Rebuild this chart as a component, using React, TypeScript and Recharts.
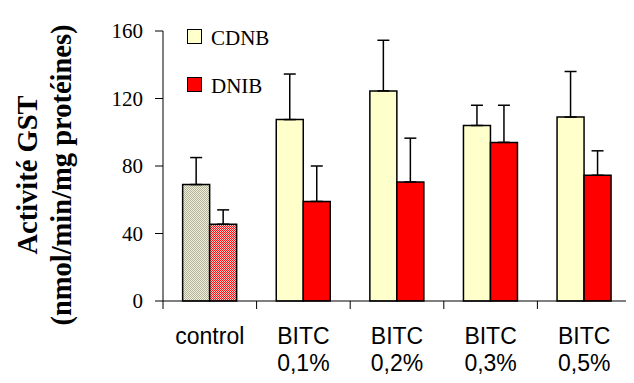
import { BarChart, Bar, XAxis, YAxis, ErrorBar, Cell, Label } from 'recharts'

// GST activity per treatment group, two substrates
const GROUPS = ['control', 'BITC\n0,1%', 'BITC\n0,2%', 'BITC\n0,3%', 'BITC\n0,5%']
const CDNB = [69, 107.5, 124.5, 104, 109]
const CDNB_ERR = [16, 27, 30, 12, 27]
const DNIB = [45.5, 59, 70.5, 94, 74.5]
const DNIB_ERR = [8.5, 21, 26, 22, 14.5]
const Y_TICKS = [0, 40, 80, 120, 160]

const SERIES = [
  { key: 'cdnb', name: 'CDNB', fill: '#ffffcc', controlFill: 'url(#ctlCdnb)' },
  { key: 'dnib', name: 'DNIB', fill: '#ff0000', controlFill: 'url(#ctlDnib)' },
]

const data = GROUPS.map((g, i) => ({
  name: g,
  cdnb: CDNB[i],
  cdnbErr: [0, CDNB_ERR[i]],
  dnib: DNIB[i],
  dnibErr: [0, DNIB_ERR[i]],
}))

const W = 626
const H = 375
const MARGIN = { top: 23, right: 3, bottom: 0, left: 95 }
const Y_WIDTH = 60
const TICK_LEN = 8

const serif = '"Liberation Serif", "Times New Roman", serif'
const sans = '"Liberation Sans", Arial, sans-serif'

// category labels plus tick marks on the group boundaries
function GroupTick(props: any) {
  const { x, y, payload, index, visibleTicksCount } = props
  const fallback = (W - MARGIN.left - Y_WIDTH - MARGIN.right) / GROUPS.length / 2
  const half = payload.offset || fallback
  const lines = String(payload.value).split('\n')
  return (
    <g>
      <line x1={x - half} y1={y - TICK_LEN} x2={x - half} y2={y} stroke="#000" />
      {index === visibleTicksCount - 1 && (
        <line x1={x + half} y1={y - TICK_LEN} x2={x + half} y2={y} stroke="#000" />
      )}
      <text x={x} y={y + 35} textAnchor="middle" fontFamily={sans} fontSize={23} fill="#000">
        {lines.map((l, k) => (
          <tspan key={k} x={x} dy={k === 0 ? 0 : 27}>{l}</tspan>
        ))}
      </text>
    </g>
  )
}

function AxisTitle(props: any) {
  const vb = props.viewBox
  const cy = vb.y + vb.height / 2 + 9
  const x1 = vb.x - 66
  const x2 = vb.x - 32
  return (
    <g fontFamily={serif} fontSize={28.5} fontWeight="bold" fill="#000">
      <text x={x1} y={cy} textAnchor="middle" transform={`rotate(-90 ${x1} ${cy})`}>Activité GST</text>
      <text x={x2} y={cy} textAnchor="middle" transform={`rotate(-90 ${x2} ${cy})`}>(nmol/min/mg protéines)</text>
    </g>
  )
}

export default function App() {
  return (
    <div style={{ position: 'relative', width: W, height: H }}>
      <BarChart width={W} height={H} data={data} margin={MARGIN} barCategoryGap="21%" barGap={0}>
        <defs>
          <pattern id="ctlCdnb" width={2} height={2} patternUnits="userSpaceOnUse">
            <rect width={2} height={2} fill="#f0f0da" />
            <rect width={1} height={1} fill="#b4b49c" />
            <rect x={1} y={1} width={1} height={1} fill="#b4b49c" />
          </pattern>
          <pattern id="ctlDnib" width={2} height={2} patternUnits="userSpaceOnUse">
            <rect width={2} height={2} fill="#ffc8c8" />
            <rect width={1} height={1} fill="#ff1010" />
            <rect x={1} y={1} width={1} height={1} fill="#ff1010" />
          </pattern>
        </defs>
        <XAxis
          dataKey="name"
          height={82}
          tickSize={TICK_LEN}
          tickMargin={0}
          tickLine={false}
          axisLine={{ stroke: '#000' }}
          tick={<GroupTick />}
          interval={0}
        />
        <YAxis
          width={Y_WIDTH}
          domain={[0, 160]}
          ticks={Y_TICKS}
          interval={0}
          tickSize={TICK_LEN}
          tickMargin={12}
          axisLine={{ stroke: '#000' }}
          tickLine={{ stroke: '#000' }}
          tick={{ fill: '#000', fontFamily: serif, fontSize: 21 }}
        >
          <Label content={<AxisTitle />} />
        </YAxis>
        {SERIES.map((s) => (
          <Bar key={s.key} dataKey={s.key} name={s.name} fill={s.fill} stroke="#000" strokeWidth={1.5} isAnimationActive={false}>
            {data.map((d, i) => (
              <Cell key={i} fill={i === 0 ? s.controlFill : s.fill} />
            ))}
            <ErrorBar dataKey={`${s.key}Err`} width={6} stroke="#000" strokeWidth={1.5} direction="y" />
          </Bar>
        ))}
      </BarChart>

      {/* legend, top left inside the plot */}
      <div style={{ position: 'absolute', left: 179, top: 19.5, fontFamily: serif, fontSize: 21, color: '#000' }}>
        {SERIES.map((s) => (
          <div key={s.key} style={{ display: 'flex', alignItems: 'flex-start', height: 48 }}>
            <span style={{ width: 13, height: 13, marginTop: 1, marginRight: 9, border: '1px solid #000', background: s.fill }} />
            <span style={{ lineHeight: '21px' }}>{s.name}</span>
          </div>
        ))}
      </div>
    </div>
  )
}
